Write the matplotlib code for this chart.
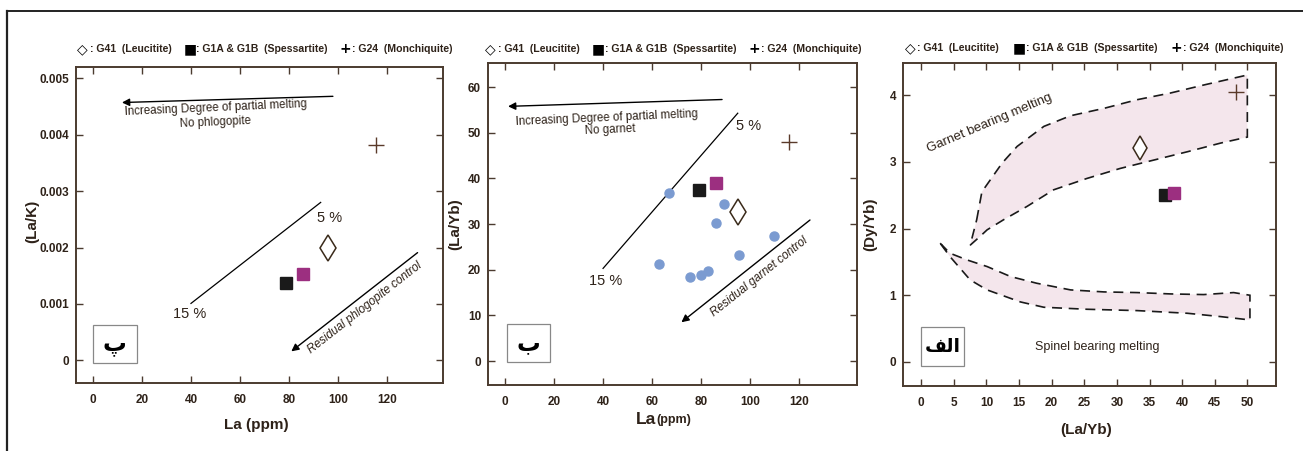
"""
Three discrimination diagrams (La/K, La/Yb, Dy/Yb) for the lamprophyre samples.
"""

import numpy as np
import matplotlib
matplotlib.use("Agg")
import matplotlib.pyplot as plt
from matplotlib.lines import Line2D
from matplotlib.patches import Rectangle, Polygon

plt.rcParams['font.family'] = ['Liberation Sans', 'DejaVu Sans']

# --- colours ---
AXIS_COL = '#4b3b2f'
TEXT_COL = '#2e2219'
MAGENTA = '#9c2f80'
BLUE = '#7b9bd1'
FILL = '#f4e6ec'

# --- panel پ : La vs La/K ---
la_k_g41 = [96.0, 0.00200]
la_k_g1a = [78.8, 0.00138]
la_k_g1b = [85.8, 0.00154]
la_k_g24 = [115.5, 0.00381]
la_k_melt_line_x = [40, 93]
la_k_melt_line_y = [0.00101, 0.00280]

# --- panel ب : La vs La/Yb ---
la_yb_other_x = [67, 89.4, 86, 110, 95.5, 63, 75.5, 80, 82.9]
la_yb_other_y = [36.8, 34.4, 30.2, 27.4, 23.2, 21.2, 18.4, 18.8, 19.7]
la_yb_g41 = [95.0, 32.6]
la_yb_g1a = [79.2, 37.4]
la_yb_g1b = [86.0, 39.0]
la_yb_g24 = [116.0, 48.1]
la_yb_melt_line_x = [40, 95]
la_yb_melt_line_y = [20.3, 54.3]

# --- panel الف : La/Yb vs Dy/Yb ---
dy_g41 = [33.6, 3.20]
dy_g1a = [37.4, 2.50]
dy_g1b = [38.8, 2.53]
dy_g24 = [48.2, 4.04]
garnet_x = [8.5, 9.3, 12.4, 14.7, 18.8, 22.9, 28.0, 33.1, 38.2, 43.3, 50.0,
            50.0, 45.9, 40.8, 34.6, 30.5, 25.4, 20.3, 16.2, 12.6, 10.1, 9.0, 7.5]
garnet_y = [2.13, 2.55, 2.98, 3.23, 3.53, 3.69, 3.80, 3.93, 4.03, 4.15, 4.30,
            3.37, 3.28, 3.15, 3.00, 2.90, 2.75, 2.58, 2.33, 2.13, 1.98, 1.88, 1.75]
spinel_x = [2.9, 4.4, 7.0, 10.1, 13.7, 17.7, 22.9, 28.0, 33.1, 38.2, 43.3, 47.9, 50.4,
            50.4, 45.9, 40.8, 33.1, 25.4, 18.8, 15.2, 10.1, 7.5, 4.4]
spinel_y = [1.78, 1.63, 1.53, 1.43, 1.28, 1.18, 1.08, 1.05, 1.04, 1.02, 1.01, 1.04, 1.00,
            0.63, 0.68, 0.73, 0.77, 0.79, 0.82, 0.90, 1.08, 1.23, 1.58]

legend_symbols = [u"\u25C7", u"\u25A0", u"+"]
legend_labels = [": G41  (Leucitite)", ": G1A & G1B  (Spessartite)",
                 ": G24  (Monchiquite)"]


def style_axes(ax, xticks, yticks, yfmt):
    for s in ax.spines.values():
        s.set_color(AXIS_COL)
        s.set_linewidth(1.4)
    ax.set_xticks(xticks)
    ax.set_yticks(yticks)
    ax.set_yticklabels([yfmt(v) for v in yticks])
    ax.tick_params(direction='in', top=True, right=True, length=5, width=1,
                   color=AXIS_COL, labelcolor=TEXT_COL, labelsize=8.5)
    ax.tick_params(axis='x', pad=8)
    ax.tick_params(axis='y', pad=5)
    for lab in ax.get_xticklabels() + ax.get_yticklabels():
        lab.set_fontweight('bold')


def add_legend(ax, xs, y):
    for sym, txt, x in zip(legend_symbols, legend_labels, xs):
        ax.text(x, y, sym, transform=ax.transAxes, fontsize=10, fontweight='bold',
                family='DejaVu Sans', color='black', va='center', ha='left', clip_on=False)
        ax.annotate(txt, xy=(x, y), xycoords='axes fraction', xytext=(9, 0),
                    textcoords='offset points', fontsize=7.6, fontweight='bold',
                    color=TEXT_COL, va='center', ha='left', annotation_clip=False)


def add_label_box(ax, x0, y0, w, h, letter, size):
    ax.add_patch(Rectangle((x0, y0), w, h, transform=ax.transAxes, fill=False,
                           edgecolor='#888888', linewidth=0.9, clip_on=False))
    ax.text(x0 + w / 2, y0 + h / 2, letter, transform=ax.transAxes, fontsize=size,
            fontweight='bold', family='DejaVu Sans', ha='center', va='center')


def plot_samples(ax, g41, g1a, g1b, g24, diamond_size=13):
    ax.plot(*g1a, marker='s', ms=9, color='#1a1a1a', ls='none')
    ax.plot(*g1b, marker='s', ms=9, color=MAGENTA, ls='none')
    ax.plot(*g41, marker='d', ms=diamond_size, mfc='white', mec='#3a2a1a', mew=1.1, ls='none')
    ax.plot(*g24, marker='+', ms=11, color='#5a3a2a', mew=1.0, ls='none')


def arrow(ax, start, end):
    ax.annotate('', xy=end, xytext=start,
                arrowprops=dict(arrowstyle='-|>', color='black', lw=1.0,
                                mutation_scale=11, shrinkA=0, shrinkB=0))


fig = plt.figure(figsize=(13.03, 4.51), dpi=100)

# frame lines
fig.add_artist(Line2D([7 / 1303, 7 / 1303], [0, 1 - 11 / 451], color='#222222', lw=1.6))
fig.add_artist(Line2D([7 / 1303, 1], [1 - 11 / 451, 1 - 11 / 451], color='#222222', lw=1.4))

# --- panel پ ---
ax1 = fig.add_axes([0.0583, 0.1508, 0.2817, 0.7007])
ax1.set_xlim(-7, 143)
ax1.set_ylim(-0.0004, 0.0052)
style_axes(ax1, [0, 20, 40, 60, 80, 100, 120], [0, 0.001, 0.002, 0.003, 0.004, 0.005],
           lambda v: '0' if v == 0 else '%.3f' % v)
ax1.plot(la_k_melt_line_x, la_k_melt_line_y, color='black', lw=0.9)
ax1.text(96.5, 0.00253, '5 %', fontsize=10.5, color=TEXT_COL, ha='center', va='center')
ax1.text(39.5, 0.00082, '15 %', fontsize=10.5, color=TEXT_COL, ha='center', va='center')
arrow(ax1, (98, 0.00468), (11.8, 0.00457))
ax1.text(50, 0.00448, 'Increasing Degree of partial melting', fontsize=8.3, rotation=2.5,
         color=TEXT_COL, ha='center', va='center')
ax1.text(50, 0.00421, 'No phlogopite', fontsize=8.3, rotation=2.5,
         color=TEXT_COL, ha='center', va='center')
arrow(ax1, (132.6, 0.00191), (81, 0.00016))
ax1.text(111, 0.00093, 'Residual phlogopite control', fontsize=8.5, style='italic',
         rotation=38, color=TEXT_COL, ha='center', va='center')
plot_samples(ax1, la_k_g41, la_k_g1a, la_k_g1b, la_k_g24)
ax1.set_xlabel('La (ppm)', fontsize=11, fontweight='bold', color=TEXT_COL)
ax1.xaxis.set_label_coords(0.49, -0.11)
ax1.set_ylabel('(La/K)', fontsize=11, fontweight='bold', color=TEXT_COL)
ax1.yaxis.set_label_coords(-0.1, 0.51)
add_legend(ax1, [0.003, 0.294, 0.719], 1.057)
add_label_box(ax1, 0.046, 0.063, 0.12, 0.12, u'\u067E', 17)

# --- panel ب ---
ax2 = fig.add_axes([0.3745, 0.1463, 0.2832, 0.714])
ax2.set_xlim(-7, 143.7)
ax2.set_ylim(-5.25, 65.3)
style_axes(ax2, [0, 20, 40, 60, 80, 100, 120], [0, 10, 20, 30, 40, 50, 60],
           lambda v: '%d' % v)
ax2.plot(la_yb_melt_line_x, la_yb_melt_line_y, color='black', lw=0.9)
ax2.text(99.5, 51.4, '5 %', fontsize=10.5, color=TEXT_COL, ha='center', va='center')
ax2.text(41, 17.5, '15 %', fontsize=10.5, color=TEXT_COL, ha='center', va='center')
arrow(ax2, (88.6, 57.3), (1.2, 55.8))
ax2.text(41.5, 53.3, 'Increasing Degree of partial melting', fontsize=8.3, rotation=2.5,
         color=TEXT_COL, ha='center', va='center')
ax2.text(43, 50.6, 'No garnet', fontsize=8.3, rotation=2.5,
         color=TEXT_COL, ha='center', va='center')
arrow(ax2, (124.5, 30.9), (72, 8.5))
ax2.text(104, 18.4, 'Residual garnet control', fontsize=8.5, style='italic',
         rotation=38.5, color=TEXT_COL, ha='center', va='center')
ax2.plot(la_yb_other_x, la_yb_other_y, 'o', ms=6.5, color=BLUE, ls='none')
plot_samples(ax2, la_yb_g41, la_yb_g1a, la_yb_g1b, la_yb_g24)
ax2.text(0.455, -0.106, 'La', transform=ax2.transAxes, fontsize=12.5, fontweight='bold',
         color=TEXT_COL, ha='right', va='center')
ax2.text(0.457, -0.11, '(ppm)', transform=ax2.transAxes, fontsize=9, fontweight='bold',
         color=TEXT_COL, ha='left', va='center')
ax2.set_ylabel('(La/Yb)', fontsize=11, fontweight='bold', color=TEXT_COL)
ax2.yaxis.set_label_coords(-0.07, 0.5)
add_legend(ax2, [-0.008, 0.282, 0.707], 1.043)
add_label_box(ax2, 0.0515, 0.0714, 0.1165, 0.118, u'\u0628', 17)

# --- panel الف ---
ax3 = fig.add_axes([0.6930, 0.1441, 0.2863, 0.7162])
ax3.set_xlim(-2.8, 54.4)
ax3.set_ylim(-0.36, 4.48)
style_axes(ax3, list(range(0, 55, 5)), [0, 1, 2, 3, 4], lambda v: '%d' % v)
ax3.add_patch(Polygon(np.column_stack([garnet_x, garnet_y]), closed=True,
                      facecolor=FILL, edgecolor='#1a1a1a', lw=1.2, ls=(0, (6, 4))))
ax3.add_patch(Polygon(np.column_stack([spinel_x, spinel_y]), closed=True,
                      facecolor=FILL, edgecolor='#1a1a1a', lw=1.2, ls=(0, (6, 4))))
ax3.text(10.5, 3.58, 'Garnet bearing melting', fontsize=9.5, rotation=23,
         color=TEXT_COL, ha='center', va='center')
ax3.text(27, 0.23, 'Spinel bearing melting', fontsize=9, color=TEXT_COL,
         ha='center', va='center')
plot_samples(ax3, dy_g41, dy_g1a, dy_g1b, dy_g24, diamond_size=12)
ax3.set_xlabel('(La/Yb)', fontsize=11, fontweight='bold', color=TEXT_COL)
ax3.xaxis.set_label_coords(0.49, -0.115)
ax3.set_ylabel('(Dy/Yb)', fontsize=11, fontweight='bold', color=TEXT_COL)
ax3.yaxis.set_label_coords(-0.07, 0.5)
add_legend(ax3, [0.005, 0.295, 0.716], 1.046)
# presentation forms so the joined word reads correctly without a shaping engine
add_label_box(ax3, 0.0475, 0.063, 0.117, 0.121, u'\uFED2\uFEDF\uFE8D', 13.5)

fig.savefig('out.png', dpi=100)
